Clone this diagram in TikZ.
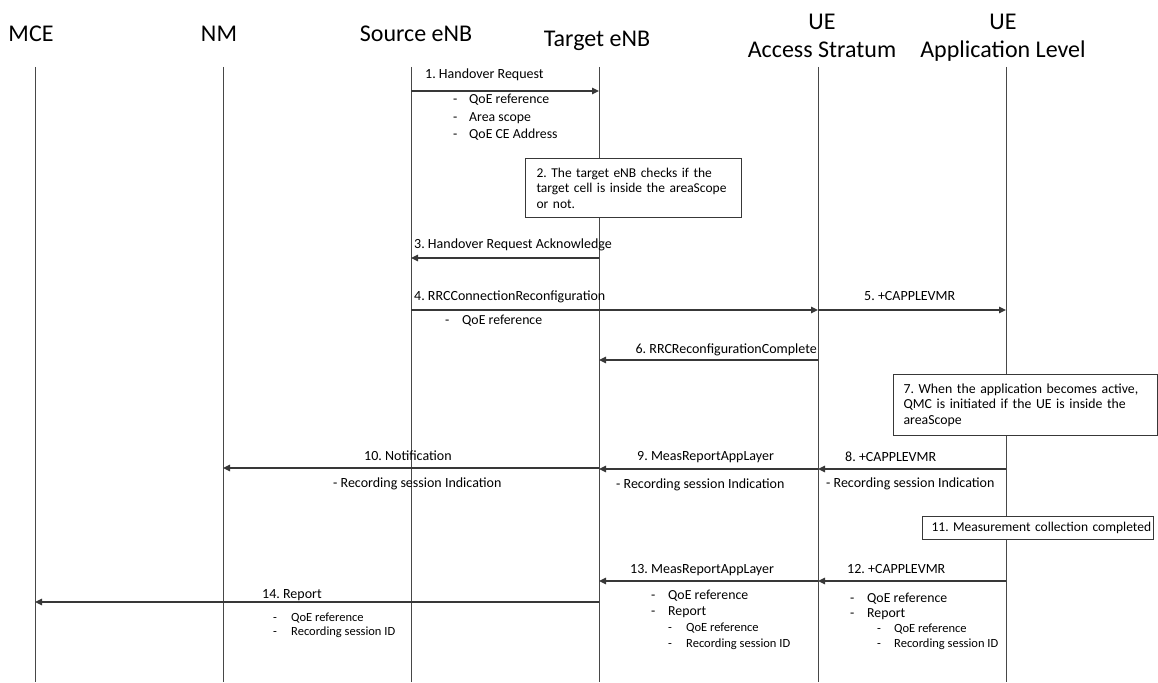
\documentclass[tikz,border=0pt]{standalone}
\usepackage{fontspec}
\setmainfont{Carlito}
\usetikzlibrary{arrows.meta}
\begin{document}
\frenchspacing
\begin{tikzpicture}[x=1pt,y=-1pt,
  hdr/.style={font=\fontsize{24}{28}\selectfont, inner sep=0pt, align=center, anchor=base},
  lbl/.style={font=\fontsize{14}{16}\selectfont, inner sep=0pt, anchor=base west},
  lst/.style={font=\fontsize{13.8}{17}\selectfont, inner sep=0pt, anchor=base west, align=left},
  lifeline/.style={draw=black!72, line width=1pt},
  msg/.style={draw=black!78, line width=1.3pt, -{Triangle[length=7pt,width=6.5pt]}},
  notebox/.style={draw=black!78, line width=1.2pt, fill=white, anchor=north west,
     font=\fontsize{13.5}{15.5}\selectfont, align=left, inner ysep=2pt}
]
\useasboundingbox (0,0) rectangle (1158,682);
\newcommand{\dsh}[1]{\makebox[#1][l]{-}}

% headers
\node[hdr] (mce) at (31,42) {MCE};
\node[hdr] (nm) at (219,42) {NM};
\node[hdr] (src) at (416,42) {Source eNB};
\node[hdr] (tgt) at (597,47) {Target eNB};
\node[hdr] (ueas) at (822,58) {UE\\Access Stratum};
\node[hdr] (ueapp) at (1003,58) {UE\\Application Level};

% lifelines
\coordinate (Lmce) at (35,67);
\coordinate (Lnm) at (223,67);
\coordinate (Lsrc) at (411,67);
\coordinate (Ltgt) at (599,67);
\coordinate (Las) at (818,67);
\coordinate (Lapp) at (1006,67);
\foreach \l in {Lmce,Lnm,Lsrc,Ltgt,Las,Lapp}
  \draw[lifeline] (\l) -- (\l |- 0,682);

% 1
\node[lbl] (l1) at (425,79) {1. Handover Request};
\draw[msg] (Lsrc |- 0,91) -- (Ltgt |- 0,91);
\node[lst] (p1) at (453,138) {\dsh{16pt}QoE reference\\\dsh{16pt}Area scope\\\dsh{16pt}QoE CE Address};

% 2
\node[notebox, text width=194pt, inner xsep=11pt, minimum height=59pt] (b2) at (525,158)
  {\mbox{2. The target eNB checks if the}\\\mbox{target cell is inside the areaScope}\\\mbox{or not.}};

% 3
\node[lbl] (l3) at (414,248) {3. Handover Request Acknowledge};
\draw[msg] (Ltgt |- 0,258) -- (Lsrc |- 0,258);

% 4
\node[lbl] (l4) at (414,300) {4. RRCConnectionReconfiguration};
\draw[msg] (Lsrc |- 0,310) -- (Las |- 0,310);
\node[lst] (p4) at (445,324) {\dsh{17pt}QoE reference};

% 5
\node[lbl] (l5) at (864,300) {5. +CAPPLEVMR};
\draw[msg] (Las |- 0,310) -- (Lapp |- 0,310);

% 6
\node[lbl, anchor=base east] (l6) at (817,353) {6. RRCReconfigurationComplete};
\draw[msg] (Las |- 0,360) -- (Ltgt |- 0,360);

% 7
\node[notebox, font=\fontsize{13.8}{15.5}\selectfont, text width=244pt, inner xsep=10pt, minimum height=61pt] (b7) at (893,374)
  {\mbox{7. When the application becomes active,}\\\mbox{QMC is initiated if the UE is inside the}\\\mbox{areaScope}};

% 8
\node[lbl] (l8) at (845,461) {8. +CAPPLEVMR};
\draw[msg] (Lapp |- 0,469) -- (Las |- 0,469);
\node[lbl] (s8) at (826,487) {- Recording session Indication};

% 9
\node[lbl] (l9) at (637,460) {9. MeasReportAppLayer};
\draw[msg] (Las |- 0,469) -- (Ltgt |- 0,469);
\node[lbl] (s9) at (616,488) {- Recording session Indication};

% 10
\node[lbl] (l10) at (364,460) {10. Notification};
\draw[msg] (Ltgt |- 0,468) -- (Lnm |- 0,468);
\node[lbl] (s10) at (333,487) {- Recording session Indication};

% 11
\node[notebox, text width=213pt, inner xsep=9pt, minimum height=23pt] (b11) at (922,516)
  {\mbox{11. Measurement collection completed}};

% 12
\node[lbl] (l12) at (847,573) {12. +CAPPLEVMR};
\draw[msg] (Lapp |- 0,581) -- (Las |- 0,581);
\node[lst, font=\fontsize{13.8}{15}\selectfont] (p12) at (850,647)
  {\dsh{17pt}QoE reference\\\dsh{17pt}Report\\
   \hspace*{27pt}{\fontsize{12.5}{15}\selectfont\dsh{17pt}QoE reference}\\
   \hspace*{27pt}{\fontsize{12.5}{15}\selectfont\dsh{17pt}Recording session ID}};

% 13
\node[lbl] (l13) at (630,573) {13. MeasReportAppLayer};
\draw[msg] (Las |- 0,581) -- (Ltgt |- 0,581);
\node[lst, font=\fontsize{13.8}{15.7}\selectfont] (p13) at (651,647)
  {\dsh{17pt}QoE reference\\\dsh{17pt}Report\\
   \hspace*{17pt}{\fontsize{12.5}{15.7}\selectfont\dsh{18pt}QoE reference}\\
   \hspace*{17pt}{\fontsize{12.5}{15.7}\selectfont\dsh{18pt}Recording session ID}};

% 14
\node[lbl] (l14) at (262,598) {14. Report};
\draw[msg] (Ltgt |- 0,602) -- (Lmce |- 0,602);
\node[lst, font=\fontsize{12.5}{14}\selectfont] (p14) at (273,635)
  {\dsh{18pt}QoE reference\\\dsh{18pt}Recording session ID};
\end{tikzpicture}
\end{document}
